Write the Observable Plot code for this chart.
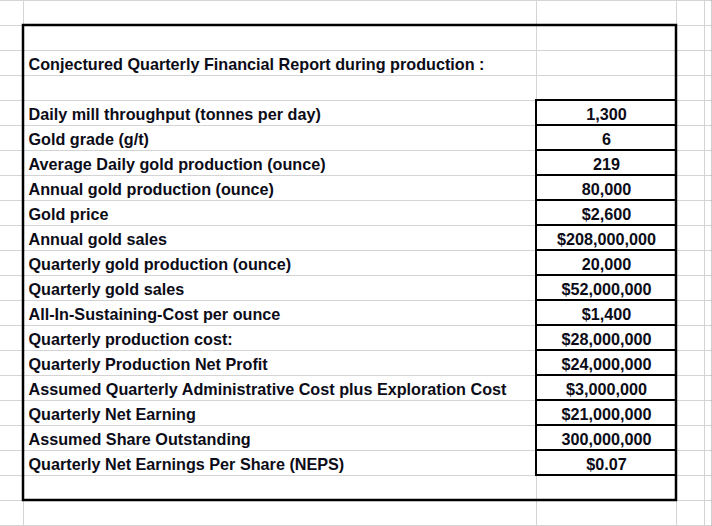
<!DOCTYPE html>
<html>
<head>
<meta charset="utf-8">
<script src="https://cdn.jsdelivr.net/npm/d3@7"></script>
<script src="https://cdn.jsdelivr.net/npm/@observablehq/plot@0.6"></script>
<style>
  html, body { margin: 0; padding: 0; background: #fff; }
  #chart svg { display: block; }
</style>
</head>
<body>
<div id="chart"></div>
<script>
// ---- data ----
const title = "Conjectured Quarterly Financial Report during production :";
const labels = [
  "Daily mill throughput (tonnes per day)",
  "Gold grade (g/t)",
  "Average Daily gold production (ounce)",
  "Annual gold production (ounce)",
  "Gold price",
  "Annual gold sales",
  "Quarterly gold production (ounce)",
  "Quarterly gold sales",
  "All-In-Sustaining-Cost per ounce",
  "Quarterly production cost:",
  "Quarterly Production Net Profit",
  "Assumed Quarterly Administrative Cost plus Exploration Cost",
  "Quarterly Net Earning",
  "Assumed Share Outstanding",
  "Quarterly Net Earnings Per Share (NEPS)"
];
const values = [
  "1,300", "6", "219", "80,000", "$2,600", "$208,000,000", "20,000",
  "$52,000,000", "$1,400", "$28,000,000", "$24,000,000", "$3,000,000",
  "$21,000,000", "300,000,000", "$0.07"
];

// ---- sheet layout (grid geometry) ----
const colWidths = [23, 513, 140, 28, 7];
const nRows = 21, rowH = 25;
const titleRow = 2, firstDataRow = 4, boxTopRow = 1, boxBottomRow = 20;
const colEdges = d3.cumsum([0, ...colWidths]);
const W = 712, H = 526;

const rows = labels.map((label, i) => ({label, value: values[i], row: firstDataRow + i}));
const rowEdges = d3.range(nRows + 1);
const vEdges = Array.from(colEdges).slice(1, -1);

const font = "'Liberation Sans', Arial, sans-serif";
const ink = "#0c0c18";
const fs = 16.2;

const chart = Plot.plot({
  width: W, height: H,
  margin: 0, marginBottom: H - nRows * rowH,
  x: {type: "linear", domain: [0, W], range: [0, W], axis: null},
  y: {type: "linear", domain: [0, nRows], range: [0, nRows * rowH], axis: null},
  style: {fontFamily: font, background: "#fff"},
  marks: [
    // sheet gridlines
    Plot.ruleY(rowEdges, {y: d => d, x1: 0, x2: W, stroke: "#d4d4d4", strokeWidth: 1}),
    Plot.ruleX(vEdges, {x: d => d, y1: 0, y2: nRows + 1, stroke: "#d4d4d4", strokeWidth: 1}),
    Plot.ruleX([W - 0.5], {x: d => d, y1: 0, y2: nRows + 1, stroke: "#a0a0a0", strokeWidth: 1}),
    // value cell borders
    Plot.rect(rows, {x1: colEdges[2], x2: colEdges[3], y1: d => d.row, y2: d => d.row + 1,
      fill: "none", stroke: "#000", strokeWidth: 2}),
    // outer box
    Plot.rect([0], {x1: colEdges[1], x2: colEdges[3], y1: boxTopRow, y2: boxBottomRow,
      fill: "none", stroke: "#000", strokeWidth: 2.5}),
    // title
    Plot.text([title], {x: colEdges[1] + 5, y: titleRow + 0.5, text: d => d, textAnchor: "start",
      fontSize: fs, fontWeight: "bold", fill: ink, dy: 1.5}),
    // labels
    Plot.text(rows, {x: colEdges[1] + 5, y: d => d.row + 0.5, text: "label", textAnchor: "start",
      fontSize: fs, fontWeight: "bold", fill: ink, dy: 1.5}),
    // values
    Plot.text(rows, {x: (colEdges[2] + colEdges[3]) / 2, y: d => d.row + 0.5, text: "value", textAnchor: "middle",
      fontSize: fs, fontWeight: "bold", fill: ink, dy: 1.5})
  ]
});
document.getElementById("chart").appendChild(chart);
</script>
</body>
</html>
